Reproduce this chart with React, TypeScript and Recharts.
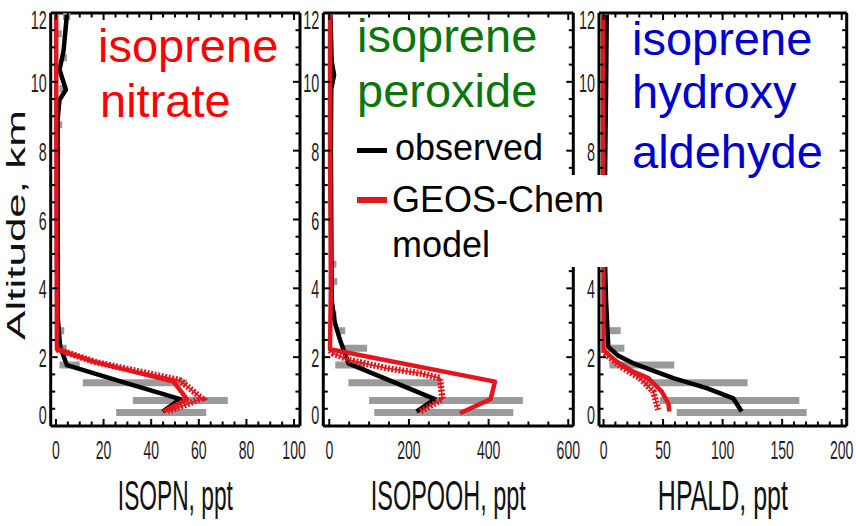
import React from 'react';
import { ScatterChart, Scatter, XAxis, YAxis, Legend, Customized } from 'recharts';

// ---------------- data ----------------
const altTickLabels = [0, 2, 4, 6, 8, 10, 12];
const isopnTickLabels = [0, 20, 40, 60, 80, 100];
const isopoohTickLabels = [0, 200, 400, 600];
const hpaldTickLabels = [0, 50, 100, 150, 200];

// Panel 1: ISOPN (ppt) vs altitude (km)
const isopnObsAlt = [11.95, 10.9, 10.35, 9.77, 9.48, 8.9, 3.2, 2.3, 1.77, 1.27, 0.78, 0.42];
const isopnObsVal = [4.6, 3.2, 1.5, 4.2, 1.5, 0.7, 0.7, 1.8, 4.6, 28.5, 52.2, 44.9];
const isopnModelAlt = [11.95, 6, 2.23, 1.87, 1.29, 0.78, 0.42];
const isopnModelVal = [0.1, 0.2, 0.4, 15.8, 49.4, 55, 45.2];
const isopnModel2Alt = [2.23, 1.85, 1.33, 0.8, 0.42];
const isopnModel2Val = [0.4, 17, 52, 61.3, 47];
const isopnBarAlt = [0.39, 0.74, 1.26, 1.77, 2.26, 2.77, 4.9, 8.0, 8.75, 9.8, 10.7, 11.4, 11.9];
const isopnBarLo = [25.3, 32.3, 11.3, 1.5, 1.5, 1.5, 0.3, 0.3, 0.5, 1.4, 2.5, 0.5, 3];
const isopnBarHi = [63.1, 72.2, 55, 10, 4.5, 3.5, 1.8, 1.8, 2.6, 3.9, 4.6, 2.5, 6];

// Panel 2: ISOPOOH (ppt)
const isopoohObsAlt = [11.95, 10.6, 10.2, 9.8, 8, 6, 3.66, 3.0, 2.5, 1.82, 0.78, 0.42];
const isopoohObsVal = [3, 6, 12, 5, 4, 5, 6, 14, 27, 48, 265, 219];
const isopoohModelAlt = [11.95, 8, 4, 2.23, 1.29, 0.78, 0.37];
const isopoohModelVal = [2, 2, 4, 1.8, 416, 405, 328];
const isopoohModel2Alt = [2.2, 2.11, 1.92, 1.68, 1.53, 1.39, 0.78, 0.42];
const isopoohModel2Val = [2, 10, 50, 144, 228, 278, 284, 228];
const isopoohBarAlt = [0.39, 0.74, 1.26, 1.77, 2.26, 2.77, 3.23, 4.2, 4.7, 9.3];
const isopoohBarLo = [113, 100, 48, 15, 28, 18, 10, 8, 8, 0];
const isopoohBarHi = [462, 486, 280, 90, 95, 40, 18, 20, 18, 5];

// Panel 3: HPALD (ppt)
const hpaldObsAlt = [11.95, 10, 7.35, 4.7, 3.66, 2.3, 2.05, 1.82, 1.39, 1.1, 0.8, 0.42];
const hpaldObsVal = [2.7, 2.2, 1.3, 1.3, 2.1, 4, 12, 25, 58.6, 86.6, 109, 116];
const hpaldModelAlt = [11.95, 4, 2.21, 1.87, 1.58, 1.39, 1.0, 0.66, 0.42];
const hpaldModelVal = [-0.5, 0, 0, 11, 25, 37.6, 48.9, 54.4, 55.3];
const hpaldModel2Alt = [2.21, 2.06, 1.68, 1.39, 1.0, 0.47];
const hpaldModel2Val = [0, 2.7, 16.6, 30.6, 41.8, 46];
const hpaldBarAlt = [0.39, 0.74, 1.26, 1.77, 2.26, 2.77];
const hpaldBarLo = [61.5, 47.4, 35, 4.9, 4, 4];
const hpaldBarHi = [170.6, 164.4, 121, 59.4, 17.5, 14.4];

const legendObserved = 'observed';
const legendModel = ['GEOS-Chem', 'model'];

// ---------------- helpers ----------------
type Pt = { x: number; y: number };
const zip = (vals: number[], alts: number[]): Pt[] => vals.map((v, i) => ({ x: v, y: alts[i] }));
const barsOf = (alts: number[], lo: number[], hi: number[]): Pt[][] =>
  alts.map((a, i) => [{ x: lo[i], y: a }, { x: hi[i], y: a }]);
const range = (a: number, b: number, s: number) => {
  const out: number[] = [];
  for (let v = a; v <= b + 1e-9; v += s) out.push(Math.round(v * 1000) / 1000);
  return out;
};
const isIn = (v: number, arr: number[]) => arr.some((a) => Math.abs(a - v) < 1e-6);

const NARROW = "'Liberation Sans Narrow','Arial Narrow','Liberation Sans',Arial,sans-serif";
const SANS = "'Liberation Sans',Arial,Helvetica,sans-serif";
const TICK_COLOR = '#1e1e28';
const RED = '#e3161d';
const BLACK = '#000';
const GRAY = '#9a9a9a';

let measureCtx: CanvasRenderingContext2D | null = null;
const measure = (txt: string, size: number, family: string) => {
  if (!measureCtx) measureCtx = document.createElement('canvas').getContext('2d');
  if (!measureCtx) return txt.length * size * 0.55;
  measureCtx.font = `${size}px ${family}`;
  return measureCtx.measureText(txt).width || txt.length * size * 0.55;
};

// text horizontally squeezed to a target width (condensed look of the original)
const SqText = (p: {
  x: number; y: number; txt: string; size: number; family: string; w: number;
  anchor: 'start' | 'middle' | 'end'; fill: string; rotate?: number;
}) => {
  const sx = p.w / measure(p.txt, p.size, p.family);
  const tr = `translate(${p.x},${p.y})${p.rotate ? ` rotate(${p.rotate})` : ''} scale(${sx},1)`;
  return (
    <text x={0} y={0} transform={tr} textAnchor={p.anchor} fontSize={p.size} fontFamily={p.family} fill={p.fill}>
      {p.txt}
    </text>
  );
};

const yMinor = range(0, 12, 0.5);

const noShape = () => <g />;

const bottomTick = (labels: number[]) => (p: any) => {
  const v = p.payload.value;
  const maj = isIn(v, labels);
  return (
    <g>
      <line x1={p.x} x2={p.x} y1={p.y} y2={p.y - (maj ? 7 : 4.5)} stroke="#000" strokeWidth={2} />
      {maj && (
        <SqText x={p.x} y={p.y + 33} txt={String(v)} size={25} family={NARROW}
          w={String(v).length * 7.8} anchor="middle" fill={TICK_COLOR} />
      )}
    </g>
  );
};
const topTick = (labels: number[]) => (p: any) => {
  const v = p.payload.value;
  const maj = isIn(v, labels);
  return <line x1={p.x} x2={p.x} y1={p.y} y2={p.y + (maj ? 7 : 4.5)} stroke="#000" strokeWidth={2} />;
};
// labels covered by the legend box in the original are not drawn
const leftTick = (covered: number[]) => (p: any) => {
  const v = p.payload.value;
  const maj = isIn(v, altTickLabels);
  const ty = v === 0 ? p.y - 2 : v === 12 ? p.y + 16 : p.y + 10;
  return (
    <g>
      <line x1={p.x} x2={p.x + (maj ? 7 : 4.5)} y1={p.y} y2={p.y} stroke="#000" strokeWidth={2} />
      {maj && !isIn(v, covered) && (
        <SqText x={p.x - 4} y={ty} txt={String(v)} size={25} family={NARROW}
          w={String(v).length * 8} anchor="end" fill={TICK_COLOR} />
      )}
    </g>
  );
};
const rightTick = (p: any) => {
  const v = p.payload.value;
  const maj = isIn(v, altTickLabels);
  return <line x1={p.x} x2={p.x - (maj ? 7 : 4.5)} y1={p.y} y2={p.y} stroke="#000" strokeWidth={2} />;
};

type Title = { text: string; x: number; y: number };

type PanelProps = {
  left: number;
  width: number;
  yAxisW: number;
  marginRight: number;
  z: number;
  xDomain: [number, number];
  xMinor: number[];
  xLabels: number[];
  obs: Pt[];
  model: Pt[];
  model2: Pt[];
  bars: Pt[][];
  xTitle: string;
  xTitleW: number;
  titles: Title[];
  titleColor: string;
  yTitle?: boolean;
  legend?: boolean;
  legendLeft?: number;
  coveredY?: number[];
};

const LegendBox = () => (
  <svg width={270} height={155} style={{ display: 'block', overflow: 'visible' }}>
    <rect x={0} y={13} width={220} height={49} fill="#fff" />
    <rect x={0} y={60} width={265} height={92} fill="#fff" />
    <line x1={12} x2={42} y1={35.5} y2={35.5} stroke={BLACK} strokeWidth={5} />
    <text x={50} y={45} fontSize={36} fontFamily={SANS} fill="#000">{legendObserved}</text>
    <line x1={12} x2={42} y1={85} y2={85} stroke={RED} strokeWidth={6} />
    <text x={47} y={97} fontSize={36} fontFamily={SANS} fill="#000">{legendModel[0]}</text>
    <text x={47} y={142} fontSize={36} fontFamily={SANS} fill="#000">{legendModel[1]}</text>
  </svg>
);

const Panel = (pp: PanelProps) => {
  const axisLine = { stroke: '#000', strokeWidth: 3 };
  return (
    <div style={{ position: 'absolute', left: pp.left, top: 0, zIndex: pp.z }}>
      <ScatterChart width={pp.width} height={526} margin={{ top: 8, right: pp.marginRight, bottom: 0, left: 0 }}>
        <XAxis
          xAxisId="b" type="number" dataKey="x" orientation="bottom" domain={pp.xDomain} ticks={pp.xMinor}
          interval={0} allowDataOverflow height={100} tickSize={0} tickMargin={0} axisLine={axisLine}
          tickLine={false} tick={bottomTick(pp.xLabels)}
          label={(lp: any) => {
            const vb = lp.viewBox || {};
            return (
              <SqText x={vb.x + vb.width / 2} y={vb.y + 84} txt={pp.xTitle} size={42} family={NARROW}
                w={pp.xTitleW} anchor="middle" fill="#111" />
            );
          }}
        />
        <XAxis
          xAxisId="t" type="number" dataKey="x" orientation="top" domain={pp.xDomain} ticks={pp.xMinor}
          interval={0} allowDataOverflow height={5} tickSize={0} tickMargin={0} axisLine={axisLine}
          tickLine={false} tick={topTick(pp.xLabels)}
        />
        <YAxis
          yAxisId="l" type="number" dataKey="y" orientation="left" domain={[0, 12]} ticks={yMinor}
          interval={0} allowDataOverflow width={pp.yAxisW} tickSize={0} tickMargin={0} axisLine={axisLine}
          tickLine={false} tick={leftTick(pp.coveredY || [])}
          label={pp.yTitle ? (() => (
            <SqText x={25} y={225} rotate={-90} txt="Altitude, km" size={26} family={SANS}
              w={230} anchor="middle" fill="#111" />
          )) : undefined}
        />
        <YAxis
          yAxisId="r" type="number" dataKey="y" orientation="right" domain={[0, 12]} ticks={yMinor}
          interval={0} allowDataOverflow width={5} tickSize={0} tickMargin={0} axisLine={axisLine}
          tickLine={false} tick={rightTick}
        />
        {pp.bars.map((b, i) => (
          <Scatter key={'bar' + i} xAxisId="b" yAxisId="l" data={b} fill={GRAY}
            line={{ stroke: GRAY, strokeWidth: 7 }} shape={noShape} isAnimationActive={false} legendType="none" />
        ))}
        <Scatter name="observed" xAxisId="b" yAxisId="l" data={pp.obs} fill={BLACK}
          line={{ stroke: BLACK, strokeWidth: 4.5, strokeLinejoin: 'round' }} shape={noShape} isAnimationActive={false} />
        <Scatter name="model range" xAxisId="b" yAxisId="l" data={pp.model2} fill={RED}
          line={{ stroke: RED, strokeWidth: 6.5, strokeDasharray: '2 1.6' }} shape={noShape} isAnimationActive={false} legendType="none" />
        <Scatter name="model range edge" xAxisId="b" yAxisId="l" data={pp.model2} fill={RED}
          line={{ stroke: RED, strokeWidth: 1.5 }} shape={noShape} isAnimationActive={false} legendType="none" />
        <Scatter name="GEOS-Chem model" xAxisId="b" yAxisId="l" data={pp.model} fill={RED}
          line={{ stroke: RED, strokeWidth: 4.5, strokeLinejoin: 'round' }} shape={noShape} isAnimationActive={false} />
        <Customized
          component={() => (
            <g>
              {pp.titles.map((t, i) => (
                <text key={i} x={t.x} y={t.y} fontSize={47} fontFamily={SANS} fill={pp.titleColor}>{t.text}</text>
              ))}
            </g>
          )}
        />
        {pp.legend && (
          <Legend layout="horizontal" verticalAlign="middle" align="center"
            wrapperStyle={{ left: pp.legendLeft, top: 115, width: 270, height: 155 }}
            content={() => <LegendBox />} />
        )}
      </ScatterChart>
    </div>
  );
}

export default function App() {
  return (
    <div style={{ position: 'absolute', left: 0, top: 0, width: 856, height: 526, background: '#fff', overflow: 'hidden' }}>
      <Panel
        left={0} width={322} yAxisW={50.7} marginRight={17} z={1}
        xDomain={[-2.2, 102.5]} xMinor={range(0, 100, 5)} xLabels={isopnTickLabels}
        obs={zip(isopnObsVal, isopnObsAlt)} model={zip(isopnModelVal, isopnModelAlt)}
        model2={zip(isopnModel2Val, isopnModel2Alt)} bars={barsOf(isopnBarAlt, isopnBarLo, isopnBarHi)}
        xTitle="ISOPN, ppt" xTitleW={115}
        titles={[{ text: 'isoprene', x: 98, y: 62 }, { text: 'nitrate', x: 100, y: 117 }]}
        titleColor="#ff0000" yTitle
      />
      <Panel
        left={290} width={310} yAxisW={33.3} marginRight={21.7} z={3}
        xDomain={[-15, 612.6]} xMinor={range(0, 600, 50)} xLabels={isopoohTickLabels}
        obs={zip(isopoohObsVal, isopoohObsAlt)} model={zip(isopoohModelVal, isopoohModelAlt)}
        model2={zip(isopoohModel2Val, isopoohModel2Alt)} bars={barsOf(isopoohBarAlt, isopoohBarLo, isopoohBarHi)}
        xTitle="ISOPOOH, ppt" xTitleW={155}
        titles={[{ text: 'isoprene', x: 67, y: 52 }, { text: 'peroxide', x: 67, y: 107 }]}
        titleColor="#0a760a" legend legendLeft={55}
      />
      <Panel
        left={575} width={281} yAxisW={24} marginRight={4.3} z={2}
        xDomain={[-3.8, 204.2]} xMinor={range(0, 200, 10)} xLabels={hpaldTickLabels}
        obs={zip(hpaldObsVal, hpaldObsAlt)} model={zip(hpaldModelVal, hpaldModelAlt)}
        model2={zip(hpaldModel2Val, hpaldModel2Alt)} bars={barsOf(hpaldBarAlt, hpaldBarLo, hpaldBarHi)}
        xTitle="HPALD, ppt" xTitleW={130}
        titles={[
          { text: 'isoprene', x: 57, y: 55 },
          { text: 'hydroxy', x: 57, y: 108 },
          { text: 'aldehyde', x: 57, y: 168 },
        ]}
        titleColor="#0000cc" coveredY={[6]}
      />
    </div>
  );
}
